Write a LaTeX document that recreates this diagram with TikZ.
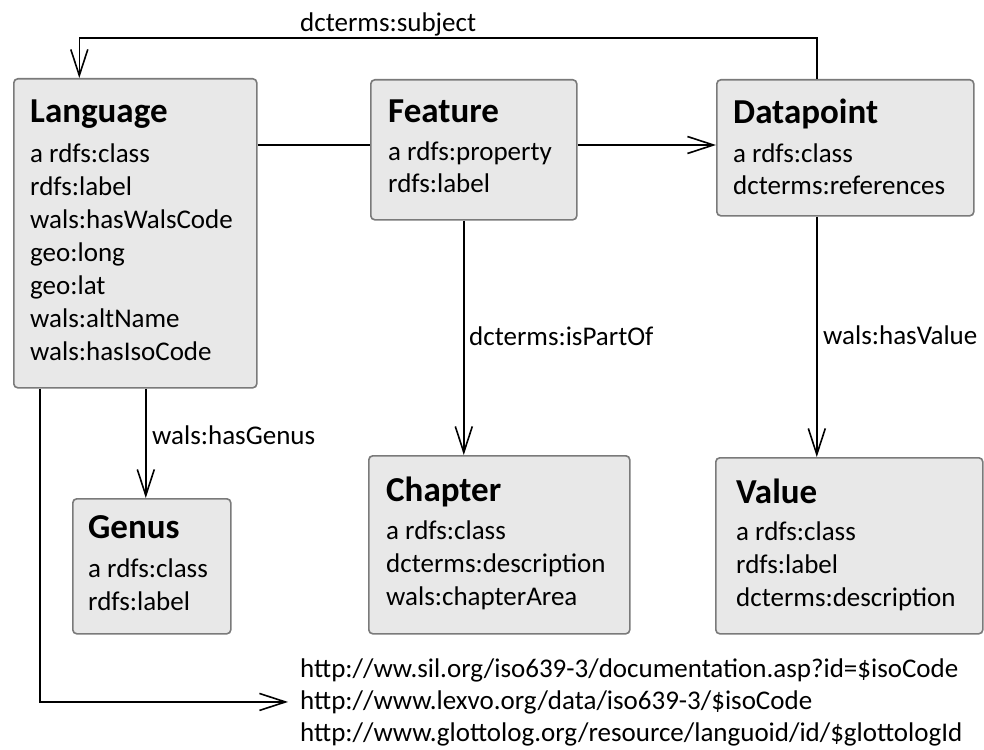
\documentclass[tikz,border=0pt]{standalone}
\usepackage{fontspec}
\setmainfont{Carlito}
\usetikzlibrary{arrows.meta}
\definecolor{boxfill}{HTML}{E8E8E8}
\definecolor{boxline}{HTML}{7A7A7A}
\tikzset{
  cls/.style={draw=boxline, fill=boxfill, line width=1.6pt, rounded corners=4pt, anchor=north west, inner sep=0pt},
  ttl/.style={anchor=base west, inner sep=0pt, font=\fontsize{35}{40}\selectfont\bfseries},
  itm/.style={anchor=base west, inner sep=0pt, font=\fontsize{27}{33}\selectfont},
  lbl/.style={anchor=base west, inner sep=0pt, font=\fontsize{27}{33}\selectfont},
  url/.style={anchor=base west, inner sep=0pt, inner xsep=12pt, font=\fontsize{27}{33}\selectfont},
  conn/.style={line width=1.6pt, black},
  arr/.style={conn, -{Straight Barb[length=26pt, width=17pt, line width=1.6pt]}}
}
\begin{document}
\begin{tikzpicture}[x=1pt, y=-1pt]
\useasboundingbox (0,0) rectangle (984,749);
% boxes
\node[cls, minimum width=243pt, minimum height=309pt] (lang) at (13,78) {};
\node[cls, minimum width=206pt, minimum height=140pt] (feat) at (370,79) {};
\node[cls, minimum width=257pt, minimum height=136pt] (dp) at (716,79) {};
\node[cls, minimum width=158pt, minimum height=135pt] (gen) at (72,498) {};
\node[cls, minimum width=261pt, minimum height=178pt] (chap) at (368,455) {};
\node[cls, minimum width=267pt, minimum height=176pt] (val) at (715,457) {};
% Language
\node[ttl] (langT) at (30,122) {Language};
\foreach \t [count=\i] in {a rdfs:class, rdfs:label, wals:hasWalsCode, geo:long, geo:lat, wals:altName, wals:hasIsoCode}
  \node[itm] (lang\i) at (30,{129+33*\i}) {\t};
% Feature
\node[ttl] (featT) at (388,122) {Feature};
\foreach \t [count=\i] in {a rdfs:property, rdfs:label}
  \node[itm] (feat\i) at (388,{128+32*\i}) {\t};
% Datapoint
\node[ttl] (dpT) at (733,123) {Datapoint};
\foreach \t [count=\i] in {a rdfs:class, dcterms:references}
  \node[itm] (dp\i) at (733,{130+32*\i}) {\t};
% Genus
\node[ttl] (genT) at (88,538) {Genus};
\foreach \t [count=\i] in {a rdfs:class, rdfs:label}
  \node[itm] (gen\i) at (88,{544+33*\i}) {\t};
% Chapter
\node[ttl] (chapT) at (386,501) {Chapter};
\foreach \t [count=\i] in {a rdfs:class, dcterms:description, wals:chapterArea}
  \node[itm] (chap\i) at (386,{506+33*\i}) {\t};
% Value
\node[ttl] (valT) at (736,503) {Value};
\foreach \t [count=\i] in {a rdfs:class, rdfs:label, dcterms:description}
  \node[itm] (val\i) at (736,{507+33*\i}) {\t};
% URLs
\node[url] (url1) at (288,677) {http://ww.sil.org/iso639-3/documentation.asp?id=\$isoCode};
\node[url] (url2) at (288,709) {http://www.lexvo.org/data/iso639-3/\$isoCode};
\node[url] (url3) at (288,741) {http://www.glottolog.org/resource/languoid/id/\$glottologId};
% connectors
\coordinate (topy) at (0,38);
\coordinate (dpx) at ([xshift=-28.5pt]dp.north);
\coordinate (langx) at ([xshift=-56pt]lang.north);
\draw[arr] (dpx) -- (dpx |- topy) -- (langx |- topy) -- (langx);
\node[lbl] (subjL) at (300,32) {dcterms:subject};
\draw[conn] (lang.east |- 0,145) -- (feat.west |- 0,145);
\draw[arr] (feat.east |- 0,145) -- (dp.west |- 0,145);
\coordinate (featx) at ([xshift=-10pt]feat.south);
\draw[arr] (featx) -- (featx |- chap.north);
\node[lbl] (partL) at (469,345) {dcterms:isPartOf};
\coordinate (dpb) at ([xshift=-28.5pt]dp.south);
\draw[arr] (dpb) -- (dpb |- val.north);
\node[lbl] (valL) at (823,344) {wals:hasValue};
\coordinate (langg) at ([xshift=10.5pt]lang.south);
\draw[arr] (langg) -- (langg |- gen.north);
\node[lbl] (genL) at (152,444) {wals:hasGenus};
\coordinate (langu) at ([xshift=-95.5pt]lang.south);
\draw[arr] (langu) -- (langu |- url2.west) -- (url2.west);
\end{tikzpicture}
\end{document}
